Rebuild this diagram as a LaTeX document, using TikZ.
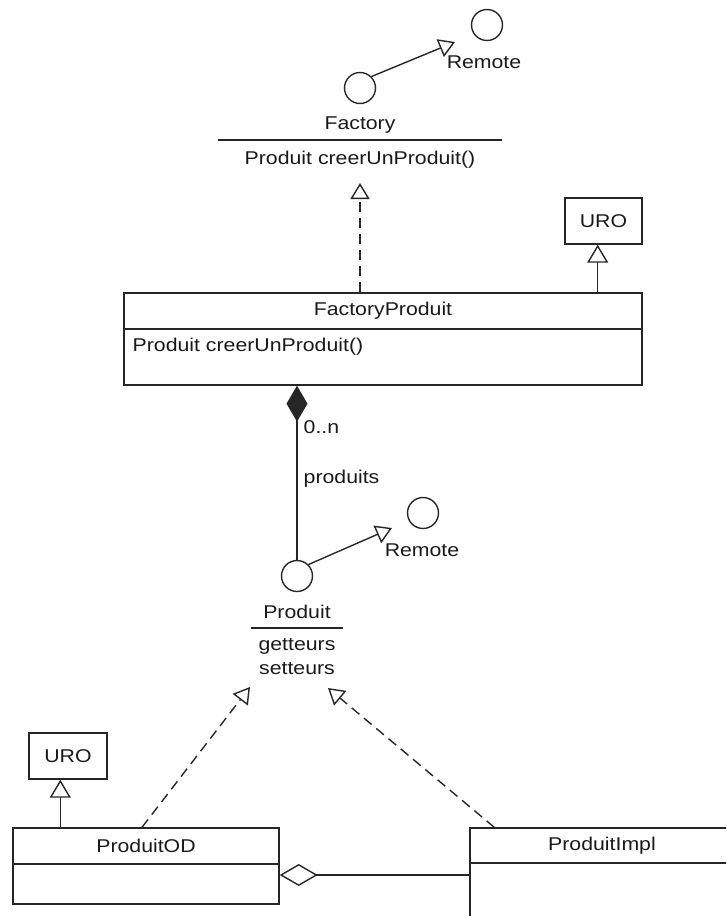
\documentclass[tikz,border=0pt]{standalone}
\usepackage{fontspec}
\setmainfont{Liberation Sans}[FakeStretch=1.15]
\usetikzlibrary{arrows.meta}
\begin{document}
\begin{tikzpicture}[x=1pt, y=-1pt,
  line width=1.4pt, draw=black!85, text=black!90,
  every node/.style={font=\fontsize{18.5}{22}\selectfont, inner sep=0pt},
  classbox/.style={draw, rectangle, inner sep=0pt},
  lollipop/.style={draw, circle, minimum size=31pt},
  realize/.style={dash pattern=on 10pt off 6pt, -{Triangle[open, length=16pt, width=19pt]}},
  realizeplain/.style={-{Triangle[open, length=16pt, width=19pt]}},
  gen/.style={-{Triangle[open, length=18pt, width=21pt]}},
  comp/.style={-{Diamond[length=36pt, width=21pt]}},
  agg/.style={-{Diamond[open, length=38pt, width=22pt]}}]
\useasboundingbox (0,0) rectangle (726,916);
\clip (0,0) rectangle (726,916);

% Factory interface (lollipop form)
\node[lollipop] (fr) at (487,25) {};
\node (frl) at (484,62) {Remote};
\node[lollipop] (fc) at (360,88) {};
\coordinate (ftip) at (455,42);
\draw[realizeplain] (fc.north east) -- (ftip);
\node (fname) at (360,125) {Factory};
\draw (218,140) -- (502,140);
\node (fop) at (360,160) {Produit creerUnProduit()};
\coordinate (fbase) at (360,183);

% FactoryProduit class
\node[classbox, minimum width=518pt, minimum height=92pt] (fp) at (383,339) {};
\node (fpname) at (383,311) {FactoryProduit};
\draw (fp.west |- 0,329) -- (fp.east |- 0,329);
\node[anchor=west] (fpop) at (132,347) {Produit creerUnProduit()};
\draw[realize] (fp.north -| fbase) -- (fbase);

% URO above FactoryProduit
\node[classbox, minimum width=77pt, minimum height=46pt] (u1) at (603.5,221) {URO};
\coordinate (g1) at ([xshift=-45pt]fp.north east);
\draw[gen] (g1) -- (g1 |- u1.south);

% Produit interface (lollipop form)
\node[lollipop] (pc) at (297,576) {};
\draw[comp] (pc) -- (pc |- fp.south);
\node[anchor=west] (mult) at (303,427) {0..n};
\node[anchor=west] (role) at (303,479) {produits};
\node[lollipop] (pr) at (423,513) {};
\node (prl) at (422,550) {Remote};
\coordinate (ptip) at (392,528);
\draw[realizeplain] (pc.north east) -- (ptip);
\node (pname) at (297,612) {Produit};
\draw (251,628) -- (343,628);
\node (pget) at (297,646) {getteurs};
\node (pset) at (297,669) {setteurs};
\coordinate (t1) at (250,687);
\coordinate (t2) at (328,688);

% ProduitOD class
\node[classbox, minimum width=266pt, minimum height=76pt] (od) at (146,866) {};
\node (odname) at (146,846) {ProduitOD};
\draw (od.west |- 0,864) -- (od.east |- 0,864);
\node[classbox, minimum width=78pt, minimum height=46pt] (u2) at (68,756) {URO};
\coordinate (g2) at ([xshift=48pt]od.north west);
\draw[gen] (g2) -- (g2 |- u2.south);
\draw[realize] ([xshift=-4pt]od.north) -- (t1);

% ProduitImpl class
\node[classbox, minimum width=264pt, minimum height=132pt] (pi) at (602,894) {};
\node (piname) at (602,846) {ProduitImpl};
\draw (pi.west |- 0,863) -- (pi.east |- 0,863);
\draw[realize] ([xshift=25pt]pi.north west) -- (t2);

% aggregation between the two implementations
\draw[agg] (pi.west |- 0,875) -- (od.east |- 0,875);
\end{tikzpicture}
\end{document}
